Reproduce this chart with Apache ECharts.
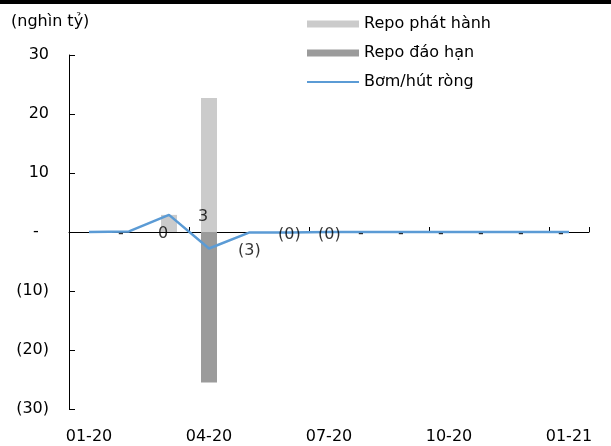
<!DOCTYPE html>
<html>
<head>
<meta charset="utf-8">
<script src="https://cdn.jsdelivr.net/npm/echarts@6/dist/echarts.min.js"></script>
<style>
html,body{margin:0;padding:0;background:#fff;}
#chart{width:611px;height:446px;}
</style>
</head>
<body>
<div id="chart"></div>
<script>
const categories = ['01-20','02-20','03-20','04-20','05-20','06-20','07-20','08-20','09-20','10-20','11-20','12-20','01-21'];
const repoIssued = [0, 0, 2.9, 22.7, 0, 0, 0, 0, 0, 0, 0, 0, 0];
const repoMatured = [0, 0, 0, -25.5, 0, 0, 0, 0, 0, 0, 0, 0, 0];
const netFlow = [0, 0.1, 2.9, -2.8, -0.1, -0.1, 0, 0, 0, 0, 0, 0, 0];
// data labels as shown in the source (shifted one month)
const netLabelValues = [null, 0, 0.1, 2.9, -2.8, -0.1, -0.1, 0, 0, 0, 0, 0, 0];
const yTicks = [-30, -20, -10, 0, 10, 20, 30];

function fmt(v) {
  const r = Math.round(Math.abs(v));
  if (v === 0) return '-';
  if (v < 0) return '(' + r + ')';
  return String(r);
}
function fmtAxis(v) {
  return v === 0 ? '-  ' : fmt(v);
}

const FONT = 'DejaVu Sans';
const chart = echarts.init(document.getElementById('chart'), null, {renderer: 'canvas'});
const option = {
  animation: false,
  backgroundColor: '#fff',
  textStyle: {fontFamily: FONT},
  graphic: [{
    type: 'rect', left: 0, top: 0,
    shape: {width: 611, height: 4},
    style: {fill: '#000'}
  }],
  title: {
    text: '(nghìn tỷ)', left: 11, top: 14, padding: 0,
    textStyle: {fontSize: 16, fontWeight: 'normal', color: '#000', fontFamily: FONT}
  },
  legend: {
    orient: 'vertical', left: 306, top: 16, padding: 0,
    itemWidth: 52, itemHeight: 7, itemGap: 13,
    textStyle: {fontSize: 16, color: '#000', lineHeight: 16, fontFamily: FONT},
    data: [
      {name: 'Repo phát hành', icon: 'rect'},
      {name: 'Repo đáo hạn', icon: 'rect'},
      {name: 'Bơm/hút ròng', itemStyle: {opacity: 0}}
    ]
  },
  grid: {left: 69, right: 22, top: 55, bottom: 37, containLabel: false},
  xAxis: [{
    type: 'category', data: categories,
    axisLine: {onZero: true, lineStyle: {color: '#000', width: 1}},
    axisTick: {show: true, inside: true, length: 5, interval: 2, lineStyle: {color: '#000'}},
    axisLabel: {show: false},
    splitLine: {show: false}
  }, {
    type: 'category', data: categories, position: 'bottom',
    axisLine: {show: false, onZero: false},
    axisTick: {show: false},
    axisLabel: {interval: 2, margin: 20, fontSize: 16, color: '#000', fontFamily: FONT},
    splitLine: {show: false}
  }],
  yAxis: {
    type: 'value', min: yTicks[0], max: yTicks[yTicks.length - 1], interval: 10,
    splitLine: {show: false},
    axisLine: {show: true, onZero: false, lineStyle: {color: '#000', width: 1}},
    axisTick: {show: true, inside: true, length: 6, lineStyle: {color: '#000'}},
    axisLabel: {margin: 20, fontSize: 16, color: '#000', fontFamily: FONT, formatter: fmtAxis}
  },
  series: [{
    name: 'Repo phát hành', type: 'bar', stack: 'repo', xAxisIndex: 0,
    data: repoIssued, barWidth: 16,
    itemStyle: {color: '#cbcbcb'}
  }, {
    name: 'Repo đáo hạn', type: 'bar', stack: 'repo', xAxisIndex: 0,
    data: repoMatured, barWidth: 16,
    itemStyle: {color: '#9b9b9b'}
  }, {
    name: 'Bơm/hút ròng', type: 'line', xAxisIndex: 0,
    data: netFlow, symbol: 'none', z: 5,
    lineStyle: {color: '#5b9bd5', width: 2.5},
    itemStyle: {color: '#5b9bd5'}
  }, {
    name: 'labels', type: 'scatter', xAxisIndex: 0,
    data: netLabelValues, symbolSize: 1, silent: true, z: 6,
    itemStyle: {color: 'rgba(0,0,0,0)'},
    label: {
      show: true, position: 'inside', align: 'left', verticalAlign: 'middle',
      offset: [-11, 2], fontSize: 16, color: '#000', fontFamily: FONT,
      formatter: p => fmt(p.value)
    }
  }]
};
chart.setOption(option);
</script>
</body>
</html>
